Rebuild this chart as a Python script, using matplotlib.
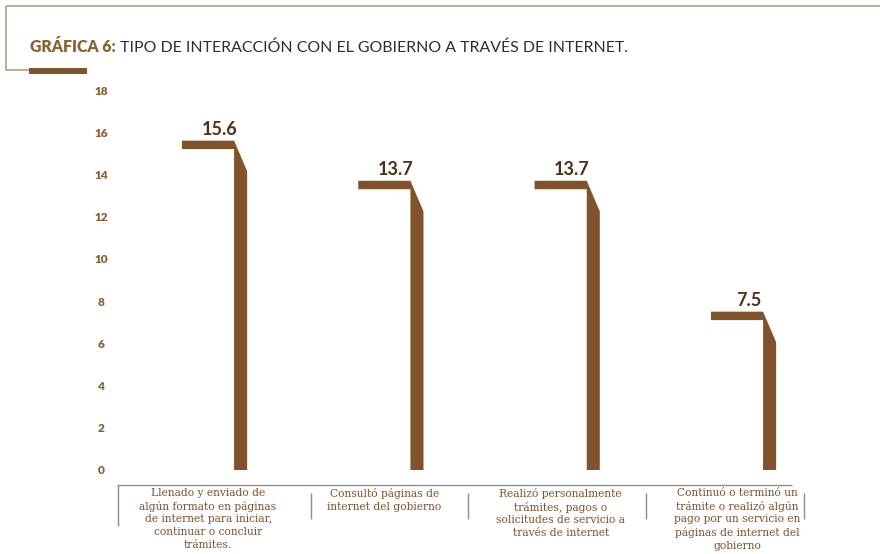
import matplotlib
matplotlib.use("Agg")
import matplotlib.pyplot as plt
from matplotlib.patches import Polygon
from matplotlib.lines import Line2D
from matplotlib.transforms import blended_transform_factory

# ---- data ----
categories = [
    "Llenado y enviado de\nalgún formato en páginas\nde internet para iniciar,\ncontinuar o concluir\ntrámites.",
    "Consultó páginas de\ninternet del gobierno",
    "Realizó personalmente\ntrámites, pagos o\nsolicitudes de servicio a\ntravés de internet",
    "Continuó o terminó un\ntrámite o realizó algún\npago por un servicio en\npáginas de internet del\ngobierno",
]
values = [15.6, 13.7, 13.7, 7.5]
value_labels = ["15.6", "13.7", "13.7", "7.5"]
yticks = [0, 2, 4, 6, 8, 10, 12, 14, 16, 18]

title_bold = "GRÁFICA 6:"
title_rest = " TIPO DE INTERACCIÓN CON EL GOBIERNO A TRAVÉS DE INTERNET."

BAR = "#80532a"
TICK = "#8a6135"
VAL = "#4e3218"
LABEL = "#7b5430"
FRAME = "#b39d7c"

W, H = 880, 554
fig = plt.figure(figsize=(W / 100, H / 100), dpi=100)
fig.patch.set_facecolor("white")

def px(x, y):
    return (x / W, 1 - y / H)

# axes: y=0 at 470px, y=18 at 90px ; x=0 at 208px, 176.33 px/unit
ax_left, ax_right = 118, 880
x_per = 176.33
x0 = 208
ax = fig.add_axes([ax_left / W, (H - 470) / H, (ax_right - ax_left) / W, 380 / H])
ax.set_xlim((ax_left - x0) / x_per, (ax_right - x0) / x_per)
ax.set_ylim(0, 18)
for s in ax.spines.values():
    s.set_visible(False)
ax.set_xticks([])
ax.set_yticks(yticks)
ax.set_yticklabels([str(t) for t in yticks], fontfamily="Lato", fontweight="heavy",
                   fontsize=8.5, color=TICK, ha="center")
ax.tick_params(axis="y", length=0, pad=12.2)
ax.patch.set_alpha(0)

# bar shape parameters (layout)
flag_half = 0.148
bar_w = 0.074
flag_th = 0.4
slant = 1.45

for i, v in enumerate(values):
    xl = i - flag_half
    xr = i + flag_half
    pts = [(xl, v), (xr, v), (xr + bar_w, v - slant), (xr + bar_w, 0),
           (xr, 0), (xr, v - flag_th), (xl, v - flag_th)]
    ax.add_patch(Polygon(pts, closed=True, facecolor=BAR, edgecolor="none"))
    ax.annotate(value_labels[i], (i + 0.065, v), xytext=(0, 2), textcoords="offset points",
                ha="center", va="bottom", fontfamily="Lato", fontweight="bold",
                fontsize=13, color=VAL)

# category labels
tr = blended_transform_factory(ax.transData, fig.transFigure)
for i, c in enumerate(categories):
    ax.text(i, px(0, 488)[1], c, transform=tr, ha="center", va="top",
            fontfamily="DejaVu Serif", fontsize=7.7, color=LABEL, linespacing=1.32,
            clip_on=False)

# bottom axis line and dividers
def fline(x1, y1, x2, y2, color, lw):
    a = px(x1, y1); b = px(x2, y2)
    fig.add_artist(Line2D([a[0], b[0]], [a[1], b[1]], transform=fig.transFigure,
                          color=color, linewidth=lw, solid_capstyle="butt"))

fline(117, 485, 792, 485, "#8c8c8c", 1.0)
fline(118, 485, 118, 526, "#8c8c8c", 1.0)
for xd in [311, 468, 646, 804]:
    fline(xd, 493, xd, 519, "#8c8c8c", 1.0)

# frame decoration
fline(6, 6, 880, 6, FRAME, 1.2)
fline(6, 6, 6, 70, FRAME, 1.2)
fline(6, 70, 30, 70, FRAME, 1.2)
fline(29, 71, 87, 71, BAR, 4.3)

# title
FS = 11.4
t1 = fig.text(px(30, 52)[0], px(30, 52)[1], title_bold, fontfamily="Lato",
              fontweight="heavy", fontsize=FS, color="#8a6330", ha="left", va="baseline")
fig.canvas.draw()
r = fig.canvas.get_renderer()
bb = t1.get_window_extent(r)
fig.text(bb.x1 / W, px(0, 52)[1], title_rest, fontfamily="Lato", fontsize=FS,
         color="#2e2e2e", ha="left", va="baseline")

fig.savefig("out.png", dpi=100, facecolor="white")
